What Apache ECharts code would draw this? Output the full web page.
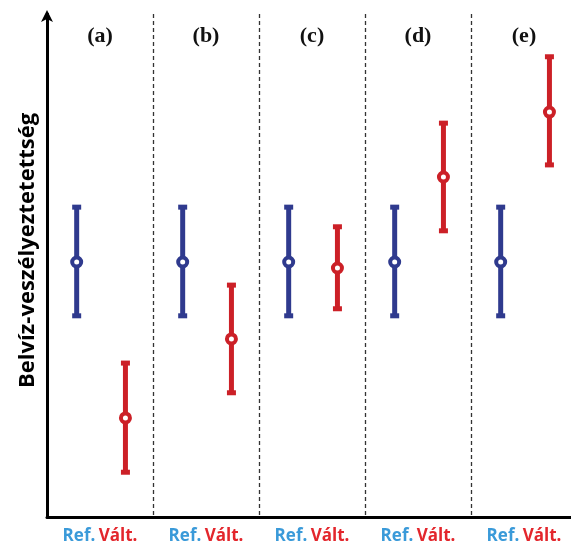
<!DOCTYPE html>
<html>
<head>
<meta charset="utf-8">
<script src="https://cdn.jsdelivr.net/npm/echarts@6/dist/echarts.min.js"></script>
<style>html,body{margin:0;padding:0;background:#fff;}#c{width:571px;height:544px;}</style>
</head>
<body>
<div id="c"></div>
<script>
// Panels
const panels = ['(a)', '(b)', '(c)', '(d)', '(e)'];
const axisTitle = 'Belvíz-veszélyeztetettség';
const refLabel = 'Ref.';
const valtLabel = 'Vált.';

// Reference scenario (mean, lower, upper)
const refMean = [5.07, 5.07, 5.07, 5.07, 5.07];
const refLow  = [4.00, 4.00, 4.00, 4.00, 4.00];
const refHigh = [6.16, 6.16, 6.16, 6.16, 6.16];

// Changed scenario (mean, lower, upper)
const valtMean = [1.97, 3.54, 4.95, 6.76, 8.05];
const valtLow  = [0.89, 2.47, 4.14, 5.69, 7.00];
const valtHigh = [3.06, 4.61, 5.77, 7.83, 9.15];

const BLUE = '#2F3A8E';
const RED = '#CC2027';

function makeRender(frac, color) {
  return function (params, api) {
    const i = api.value(0);
    const band = api.size([1, 0])[0];
    const c = api.coord([i, api.value(1)]);
    const lo = api.coord([i, api.value(2)]);
    const hi = api.coord([i, api.value(3)]);
    const x = c[0] + (frac - 0.5) * band;
    return {
      type: 'group',
      children: [
        { type: 'line', shape: { x1: x, y1: hi[1], x2: x, y2: lo[1] }, style: { stroke: color, lineWidth: 5 } },
        { type: 'rect', shape: { x: x - 4.5, y: hi[1] - 2.5, width: 9, height: 5 }, style: { fill: color } },
        { type: 'rect', shape: { x: x - 4.5, y: lo[1] - 2.5, width: 9, height: 5 }, style: { fill: color } },
        { type: 'circle', shape: { cx: x, cy: c[1], r: 4.5 }, style: { fill: '#fff', stroke: color, lineWidth: 4 } }
      ]
    };
  };
}

const refData = panels.map((p, i) => [i, refMean[i], refLow[i], refHigh[i]]);
const valtData = panels.map((p, i) => [i, valtMean[i], valtLow[i], valtHigh[i]]);

const chart = echarts.init(document.getElementById('c'));
chart.setOption({
  backgroundColor: '#fff',
  animation: false,
  grid: { left: 47, right: -6, top: 14, bottom: 27, outerBoundsMode: 'none', containLabel: false },
  xAxis: [
    {
      type: 'category',
      data: panels,
      position: 'bottom',
      axisLine: { show: true, lineStyle: { color: '#000', width: 3 } },
      axisTick: { show: false, interval: 0 },
      splitLine: { show: true, interval: 0, lineStyle: { color: '#333', width: 1.3, type: [4, 3] } },
      axisLabel: {
        interval: 0,
        hideOverlap: false,
        margin: 11,
        formatter: function () { return '{r|' + refLabel + '} {v|' + valtLabel + '}'; },
        rich: {
          r: { color: '#3A9AD9', fontFamily: 'Open Sans', fontWeight: 'bold', fontSize: 17 },
          v: { color: '#E3262C', fontFamily: 'Open Sans', fontWeight: 'bold', fontSize: 17 }
        }
      }
    },
    {
      type: 'category',
      data: panels,
      position: 'top',
      axisLine: { show: false },
      axisTick: { show: false },
      splitLine: { show: false },
      axisLabel: {
        interval: 0,
        inside: true,
        margin: 11,
        color: '#111',
        fontFamily: 'Liberation Serif',
        fontWeight: 'bold',
        fontSize: 22
      }
    }
  ],
  yAxis: {
    type: 'value',
    min: 0,
    max: 10,
    name: axisTitle,
    nameLocation: 'middle',
    nameRotate: 90,
    nameGap: 8,
    nameTextStyle: { color: '#000', fontFamily: 'Open Sans', fontWeight: 'bold', fontSize: 22, padding: [0, 0, 0, 30] },
    axisLine: { show: true, symbol: ['none', 'arrow'], symbolSize: [9, 12], symbolOffset: [0, 4], lineStyle: { color: '#000', width: 3 } },
    axisTick: { show: false },
    axisLabel: { show: false },
    splitLine: { show: false }
  },
  series: [
    { name: refLabel, type: 'custom', renderItem: makeRender(0.28, BLUE), data: refData, clip: false },
    { name: valtLabel, type: 'custom', renderItem: makeRender(0.74, RED), data: valtData, clip: false }
  ]
});
</script>
</body>
</html>
